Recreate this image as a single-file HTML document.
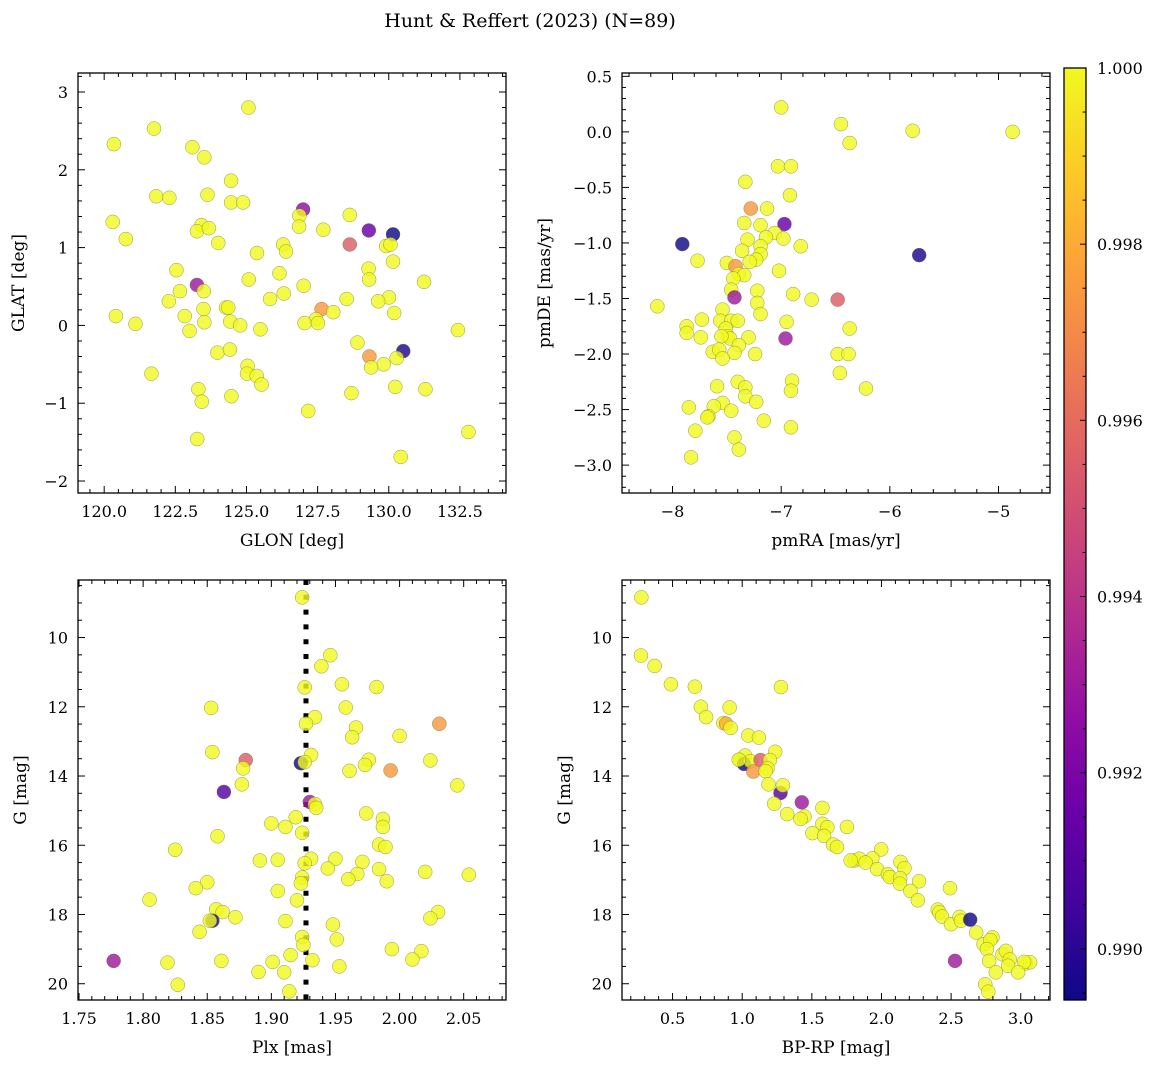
<!DOCTYPE html>
<html><head><meta charset="utf-8"><style>
html,body{margin:0;padding:0;background:#fff;}
svg text{font-family:"DejaVu Serif","Liberation Serif",serif;fill:#000;}
</style></head><body>
<svg id="fig" width="1161" height="1068" viewBox="0 0 1161 1068" xmlns="http://www.w3.org/2000/svg">
<defs>
<linearGradient id="plasmaGrad" x1="0" y1="1" x2="0" y2="0">
<stop offset="0" stop-color="#0d0887"/><stop offset="0.1" stop-color="#41049d"/><stop offset="0.2" stop-color="#6a00a8"/><stop offset="0.3" stop-color="#8f0da4"/><stop offset="0.4" stop-color="#b12a90"/><stop offset="0.5" stop-color="#cc4778"/><stop offset="0.6" stop-color="#e16462"/><stop offset="0.7" stop-color="#f2844b"/><stop offset="0.8" stop-color="#fca636"/><stop offset="0.9" stop-color="#fcce25"/><stop offset="1" stop-color="#f0f921"/>
</linearGradient>
</defs>
<text x="530" y="27" font-size="19" text-anchor="middle">Hunt &amp; Reffert (2023) (N=89)</text>
</svg>
<script>
// ---- Panel 1: GLON / GLAT ----
const p1Glon=[125.07,121.75,120.34,123.10,123.52,124.46,121.83,122.29,123.63,124.46,124.88,126.99,126.86,128.63,120.30,126.85,123.42,123.26,123.68,127.70,129.30,130.15,120.76,124.01,128.63,129.91,130.06,126.29,126.39,125.37,130.15,129.29,122.54,126.16,129.31,131.24,125.08,127.01,123.26,123.50,122.66,126.31,122.27,125.83,128.52,130.01,129.63,124.28,124.36,123.49,127.64,128.05,130.19,120.41,122.83,127.44,121.10,124.43,123.52,124.78,127.04,127.51,125.49,123.00,132.43,128.90,123.98,124.42,129.32,130.51,130.28,129.82,129.38,125.04,125.02,125.36,125.53,121.66,123.31,130.23,131.29,124.47,123.43,128.69,127.17,132.80,123.27,130.42];
const p1Glat=[2.80,2.53,2.33,2.29,2.16,1.86,1.66,1.64,1.68,1.58,1.58,1.49,1.41,1.42,1.33,1.27,1.29,1.21,1.25,1.23,1.22,1.17,1.11,1.06,1.04,1.02,1.04,1.04,0.95,0.93,0.82,0.73,0.71,0.67,0.59,0.56,0.59,0.51,0.52,0.44,0.44,0.41,0.31,0.34,0.34,0.36,0.31,0.23,0.23,0.21,0.21,0.17,0.16,0.12,0.12,0.08,0.02,0.05,0.04,0.00,0.03,0.03,-0.05,-0.07,-0.06,-0.22,-0.35,-0.31,-0.40,-0.33,-0.42,-0.50,-0.54,-0.52,-0.62,-0.65,-0.76,-0.62,-0.82,-0.79,-0.82,-0.91,-0.98,-0.87,-1.10,-1.37,-1.46,-1.69];
const p1Prob=[1,1,1,1,1,1,1,1,1,1, 1,0.9925,1,1,1,1,1,1,1,1, 0.9915,0.9895,1,1,0.9955,1,1,1,1,1, 1,1,1,1,1,1,1,1,0.993,1, 1,1,1,1,1,1,1,1,1,1, 0.9975,1,1,1,1,1,1,1,1,1, 1,1,1,1,1,1,1,1,0.9975,0.9898, 1,1,1,1,1,1,1,1,1,1, 1,1,1,1,1,1,1,1];
const p1XTicks=[120.0,122.5,125.0,127.5,130.0,132.5];
const p1XTickLabels=["120.0","122.5","125.0","127.5","130.0","132.5"];
const p1YTicks=[3,2,1,0,-1,-2];
const p1YTickLabels=["3","2","1","0","−1","−2"];

// ---- Panel 2: pmRA / pmDE ----
const p2PmRA=[-7.00,-6.45,-5.79,-4.87,-6.37,-7.03,-6.91,-7.33,-6.92,-7.28,-7.13,-7.34,-7.19,-6.97,-7.06,-7.14,-6.98,-7.31,-6.82,-7.19,-7.91,-7.36,-7.19,-7.23,-7.29,-7.77,-7.50,-7.42,-5.73,-7.02,-7.39,-7.34,-7.44,-7.46,-7.43,-7.22,-6.89,-6.72,-6.48,-8.14,-7.22,-7.19,-7.54,-7.73,-7.87,-7.87,-7.56,-7.46,-7.40,-6.95,-6.37,-7.51,-7.49,-7.47,-7.55,-7.74,-7.30,-6.96,-7.39,-7.63,-7.57,-7.43,-7.54,-7.24,-6.48,-6.38,-6.46,-7.40,-6.90,-6.91,-7.33,-7.59,-6.22,-7.33,-7.23,-7.54,-7.62,-7.85,-7.46,-7.67,-7.68,-7.16,-7.79,-6.91,-7.43,-7.39,-7.83];
const p2PmDE=[0.22,0.07,0.01,0.00,-0.10,-0.31,-0.31,-0.45,-0.57,-0.69,-0.69,-0.82,-0.84,-0.83,-0.91,-0.95,-0.96,-0.97,-1.03,-1.03,-1.01,-1.07,-1.10,-1.15,-1.17,-1.16,-1.18,-1.21,-1.11,-1.25,-1.28,-1.29,-1.32,-1.42,-1.49,-1.43,-1.46,-1.51,-1.51,-1.57,-1.54,-1.64,-1.60,-1.69,-1.75,-1.81,-1.70,-1.70,-1.70,-1.71,-1.77,-1.77,-1.84,-1.86,-1.84,-1.85,-1.85,-1.86,-1.92,-1.98,-1.96,-1.99,-2.04,-2.00,-2.00,-2.00,-2.17,-2.25,-2.24,-2.33,-2.30,-2.29,-2.31,-2.38,-2.43,-2.44,-2.47,-2.48,-2.51,-2.56,-2.57,-2.60,-2.69,-2.66,-2.75,-2.86,-2.93];
const p2Prob=[1,1,1,1,1,1,1,1,1,0.9975, 1,1,1,0.9915,1,1,1,1,1,1, 0.9895,1,1,1,1,1,1,0.9975,0.9897,1, 1,1,1,1,0.993,1,1,1,0.9955,1, 1,1,1,1,1,1,1,1,1,1, 1,1,1,1,1,1,1,0.993,1,1, 1,1,1,1,1,1,1,1,1,1, 1,1,1,1,1,1,1,1,1,1, 1,1,1,1,1,1,1];
const p2XTicks=[-8,-7,-6,-5];
const p2XTickLabels=["−8","−7","−6","−5"];
const p2YTicks=[0.5,0.0,-0.5,-1.0,-1.5,-2.0,-2.5,-3.0];
const p2YTickLabels=["0.5","0.0","−0.5","−1.0","−1.5","−2.0","−2.5","−3.0"];

// ---- Panel 3: Plx / G ----
const p3Plx=[1.924,1.946,1.939,1.955,1.982,1.926,1.853,1.958,1.934,1.927,2.031,1.966,1.963,2.000,1.854,1.931,1.880,1.878,2.024,1.976,1.973,1.923,1.926,1.961,1.993,1.877,2.045,1.863,1.930,1.934,1.935,1.974,1.987,1.987,1.919,1.900,1.911,1.924,1.858,1.825,1.984,1.989,1.891,1.905,1.931,1.926,1.950,1.944,1.971,1.984,2.020,2.054,1.967,1.960,1.990,1.924,1.923,1.850,1.841,1.905,1.805,1.920,1.857,1.862,1.872,2.030,2.024,1.854,1.852,1.911,1.948,1.844,1.951,1.924,1.925,1.994,2.017,2.010,1.777,1.819,1.861,1.901,1.915,1.932,1.953,1.890,1.910,1.827,1.914];
const p3G=[8.84,10.51,10.83,11.35,11.43,11.44,12.03,12.02,12.30,12.49,12.49,12.60,12.88,12.84,13.31,13.39,13.54,13.78,13.55,13.53,13.68,13.63,13.60,13.85,13.84,14.24,14.27,14.46,14.75,14.81,14.92,15.08,15.24,15.47,15.19,15.37,15.47,15.64,15.74,16.13,15.98,16.05,16.44,16.42,16.39,16.52,16.39,16.67,16.48,16.69,16.77,16.85,16.83,16.98,17.04,16.93,17.10,17.07,17.24,17.32,17.57,17.59,17.85,17.93,18.08,17.93,18.11,18.18,18.18,18.19,18.29,18.50,18.72,18.65,18.88,19.00,19.06,19.30,19.34,19.39,19.34,19.37,19.17,19.32,19.50,19.66,19.67,20.03,20.22];
const p3Prob=[1,1,1,1,1,1,1,1,1,1, 0.9975,1,1,1,1,1,0.9955,1,1,1, 1,0.9895,1,1,0.9975,1,1,0.991,0.993,1, 1,1,1,1,1,1,1,1,1,1, 1,1,1,1,1,1,1,1,1,1, 1,1,1,1,1,1,1,1,1,1, 1,1,1,1,1,1,1,0.9895,1,1, 1,1,1,1,1,1,1,1,0.993,1, 1,1,1,1,1,1,1,1,1];
const p3XTicks=[1.75,1.80,1.85,1.90,1.95,2.00,2.05];
const p3XTickLabels=["1.75","1.80","1.85","1.90","1.95","2.00","2.05"];
const p3YTicks=[10,12,14,16,18,20];
const p3YTickLabels=["10","12","14","16","18","20"];
const p3PlxRef=[1.927];

// ---- Panel 4: BP-RP / G ----
const p4Color=[0.276,0.273,0.371,0.488,0.660,1.278,0.703,0.910,0.741,0.865,0.884,0.917,1.044,1.120,1.237,0.984,1.020,1.013,1.061,1.132,1.199,1.080,1.182,1.168,1.189,1.275,1.292,1.428,1.230,1.576,1.323,1.447,1.419,1.576,1.612,1.752,1.504,1.588,1.652,1.681,1.998,1.807,1.841,1.934,1.886,2.136,2.165,1.969,2.046,2.060,2.134,2.132,2.270,2.208,2.261,2.492,2.404,2.416,2.435,2.499,2.561,2.571,2.637,2.680,2.733,2.797,2.781,2.757,2.869,2.893,2.921,2.909,2.773,3.036,3.067,3.024,2.821,2.981,2.528,2.745,2.767,1.779,0.975];
const p4G=[8.84,10.52,10.82,11.35,11.42,11.43,12.00,12.02,12.30,12.47,12.49,12.61,12.83,12.89,13.30,13.53,13.41,13.65,13.57,13.54,13.54,13.87,13.78,13.86,14.24,14.49,14.27,14.76,14.80,14.92,15.10,15.17,15.24,15.38,15.48,15.47,15.65,15.73,15.98,16.05,16.12,16.44,16.39,16.38,16.50,16.48,16.66,16.69,16.84,16.92,16.95,17.11,17.04,17.32,17.59,17.24,17.86,17.94,18.06,18.28,18.07,18.18,18.15,18.52,18.86,18.66,18.74,19.00,19.15,19.05,19.30,19.48,19.34,19.41,19.38,19.37,19.67,19.67,19.34,20.02,20.23,16.44,13.53];
const p4Prob=[1,1,1,1,1,1,1,1,1,1, 0.998,1,1,1,1,1,1,0.9895,1,0.9955, 1,0.9975,1,1,1,0.991,1,0.993,1,1, 1,1,1,1,1,1,1,1,1,1, 1,1,1,1,1,1,1,1,1,1, 1,1,1,1,1,1,1,1,1,1, 1,1,0.9895,1,1,1,1,1,1,1, 1,1,1,1,1,1,1,1,0.993,1, 1,1,1];
const p4XTicks=[0.5,1.0,1.5,2.0,2.5,3.0];
const p4XTickLabels=["0.5","1.0","1.5","2.0","2.5","3.0"];

// ---- Colorbar ----
const cbTicks=[1.000,0.998,0.996,0.994,0.992,0.990];
const cbTickLabels=["1.000","0.998","0.996","0.994","0.992","0.990"];
const cbMin=0.98942, cbMax=1.0;

const NS="http://www.w3.org/2000/svg";
const svg=document.getElementById('fig');
function mk(tag,attrs,parent){const e=document.createElementNS(NS,tag);for(const k in attrs)e.setAttribute(k,attrs[k]);(parent||svg).appendChild(e);return e;}

const plasma=[[13,8,135],[65,4,157],[106,0,168],[143,13,164],[177,42,144],[204,71,120],[225,100,98],[242,132,75],[252,166,54],[252,206,37],[240,249,33]];
function cmap(p){let t=(p-cbMin)/(cbMax-cbMin);t=Math.max(0,Math.min(1,t));const f=t*10,i=Math.min(9,Math.floor(f)),r=f-i;const a=plasma[i],b=plasma[i+1];return `rgb(${Math.round(a[0]+(b[0]-a[0])*r)},${Math.round(a[1]+(b[1]-a[1])*r)},${Math.round(a[2]+(b[2]-a[2])*r)})`;}

function panel(cfg){
  const g=mk('g',{});
  
  
  const {x0,x1,y0,y1,xmin,xmax,ybot,ytop}=cfg;
  const sx=v=>x0+(v-xmin)/(xmax-xmin)*(x1-x0);
  const sy=v=>y1-(v-ybot)/(ytop-ybot)*(y1-y0);
  const cid='clip-'+cfg.name;
  const cp=mk('clipPath',{id:cid},g);
  mk('rect',{x:x0,y:y0,width:x1-x0,height:y1-y0},cp);
  const pts=mk('g',{'clip-path':`url(#${cid})`},g);
  
  
  if(cfg.vline){cfg.vline.forEach(v=>{const l=mk('line',{x1:sx(v),x2:sx(v),y1:y0,y2:y1,stroke:'#000','stroke-width':5,'stroke-dasharray':'5 9.8'},pts);
    
    });}
  for(let i=0;i<cfg.xs.length;i++){
    const c=mk('circle',{cx:sx(cfg.xs[i]),cy:sy(cfg.ys[i]),r:7,fill:cmap(cfg.ps[i]),'fill-opacity':0.82,stroke:'#6b6b3a','stroke-width':0.5,'stroke-opacity':0.7},pts);
    
    
  }
  const fr=mk('rect',{x:x0,y:y0,width:x1-x0,height:y1-y0,fill:'none',stroke:'#000','stroke-width':1.3},g);
  
  
  const tg=mk('g',{stroke:'#000','stroke-width':1},g);
  const isMajor=(v,arr)=>arr.some(m=>Math.abs(m-v)<1e-6);
  cfg.xticks.forEach((v,i)=>{const X=sx(v);mk('line',{x1:X,x2:X,y1:y1,y2:y1-7},tg);mk('line',{x1:X,x2:X,y1:y0,y2:y0+7},tg);
    const t=mk('text',{x:X,y:y1+24,'font-size':16,'text-anchor':'middle'},g);t.textContent=cfg.xl[i];
    
    });
  for(let k=Math.ceil(xmin/cfg.xm-1e-9);k*cfg.xm<=xmax;k++){const v=k*cfg.xm;if(isMajor(v,cfg.xticks))continue;const X=sx(v);mk('line',{x1:X,x2:X,y1:y1,y2:y1-4},tg);mk('line',{x1:X,x2:X,y1:y0,y2:y0+4},tg);}
  cfg.yticks.forEach((v,i)=>{const Y=sy(v);mk('line',{x1:x0,x2:x0+7,y1:Y,y2:Y},tg);mk('line',{x1:x1,x2:x1-7,y1:Y,y2:Y},tg);
    const t=mk('text',{x:x0-10,y:Y+6,'font-size':16,'text-anchor':'end'},g);t.textContent=cfg.yl[i];
    
    });
  const ylo=Math.min(ybot,ytop),yhi=Math.max(ybot,ytop);
  for(let k=Math.ceil(ylo/cfg.ym-1e-9);k*cfg.ym<=yhi;k++){const v=k*cfg.ym;if(isMajor(v,cfg.yticks))continue;const Y=sy(v);mk('line',{x1:x0,x2:x0+4,y1:Y,y2:Y},tg);mk('line',{x1:x1,x2:x1-4,y1:Y,y2:Y},tg);}
  const xt=mk('text',{x:(x0+x1)/2,y:y1+53,'font-size':17,'text-anchor':'middle'},g);xt.textContent=cfg.xlabel;
  
  
  const yx=cfg.ylabelX, ym=(y0+y1)/2;
  const yt2=mk('text',{x:yx,y:ym,'font-size':17,'text-anchor':'middle',transform:`rotate(-90 ${yx} ${ym})`},g);yt2.textContent=cfg.ylabel;
  
  
}

panel({name:'panel-glon-glat',x0:78,x1:506,y0:73,y1:493,xmin:119.08,xmax:134.12,ybot:-2.154,ytop:3.244,xs:p1Glon,ys:p1Glat,ps:p1Prob,xticks:p1XTicks,xl:p1XTickLabels,xm:0.5,yticks:p1YTicks,yl:p1YTickLabels,ym:0.2,xlabel:'GLON [deg]',ylabel:'GLAT [deg]',ylabelX:24});
panel({name:'panel-pmra-pmde',x0:622,x1:1050,y0:73,y1:493,xmin:-8.465,xmax:-4.526,ybot:-3.251,ytop:0.530,xs:p2PmRA,ys:p2PmDE,ps:p2Prob,xticks:p2XTicks,xl:p2XTickLabels,xm:0.2,yticks:p2YTicks,yl:p2YTickLabels,ym:0.1,xlabel:'pmRA [mas/yr]',ylabel:'pmDE [mas/yr]',ylabelX:550});
panel({name:'panel-plx-g',x0:78,x1:506,y0:580,y1:1000,xmin:1.7492,xmax:2.083,ybot:20.47,ytop:8.338,xs:p3Plx,ys:p3G,ps:p3Prob,xticks:p3XTicks,xl:p3XTickLabels,xm:0.01,yticks:p3YTicks,yl:p3YTickLabels,ym:0.5,xlabel:'Plx [mas]',ylabel:'G [mag]',ylabelX:26,vline:p3PlxRef});
panel({name:'panel-bprp-g',x0:622,x1:1050,y0:580,y1:1000,xmin:0.137,xmax:3.210,ybot:20.47,ytop:8.338,xs:p4Color,ys:p4G,ps:p4Prob,xticks:p4XTicks,xl:p4XTickLabels,xm:0.1,yticks:p3YTicks,yl:p3YTickLabels,ym:0.5,xlabel:'BP-RP [mag]',ylabel:'G [mag]',ylabelX:570});

(function(){
  const cx0=1064,cx1=1086,cy0=68,cy1=1000;
  const g=mk('g',{});
  
  
  mk('rect',{x:cx0,y:cy0,width:cx1-cx0,height:cy1-cy0,fill:'url(#plasmaGrad)'},g);
  mk('rect',{x:cx0,y:cy0,width:cx1-cx0,height:cy1-cy0,fill:'none',stroke:'#000','stroke-width':1.3},g);
  const sy=v=>cy1-(v-cbMin)/(cbMax-cbMin)*(cy1-cy0);
  cbTicks.forEach((v,i)=>{const Y=sy(v);mk('line',{x1:cx1,x2:cx1-6,y1:Y,y2:Y,stroke:'#000'},g);
    const t=mk('text',{x:cx1+11,y:Y+6,'font-size':16},g);t.textContent=cbTickLabels[i];
    
    });
  for(let k=Math.ceil(cbMin/0.0005);k*0.0005<=cbMax+1e-9;k++){const v=k*0.0005;if(cbTicks.some(m=>Math.abs(m-v)<1e-7))continue;const Y=sy(v);mk('line',{x1:cx1,x2:cx1-3.5,y1:Y,y2:Y,stroke:'#000'},g);}
})();
</script>
</body></html>
